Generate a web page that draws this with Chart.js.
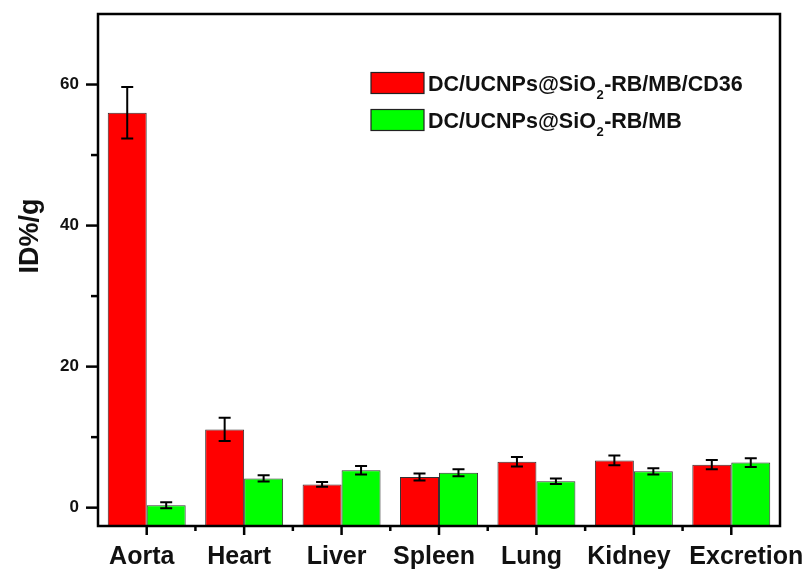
<!DOCTYPE html>
<html>
<head>
<meta charset="utf-8">
<script src="https://cdn.jsdelivr.net/npm/chart.js@4/dist/chart.umd.min.js"></script>
<style>
  html, body { margin: 0; padding: 0; background: #fff; }
  #wrap { width: 809px; height: 570px; }
</style>
</head>
<body>
<div id="wrap"><canvas id="c" width="809" height="570"></canvas></div>
<script>
// ---- data ----
const categories = ['Aorta', 'Heart', 'Liver', 'Spleen', 'Lung', 'Kidney', 'Excretion'];
const seriesNames = ['DC/UCNPs@SiO', 'DC/UCNPs@SiO'];
const seriesSuffix = ['-RB/MB/CD36', '-RB/MB'];
const targetedValues = [56.0, 11.1, 3.3, 4.35, 6.5, 6.7, 6.1];
const targetedErrors = [3.65, 1.65, 0.35, 0.5, 0.67, 0.7, 0.65];
const controlValues = [0.35, 4.15, 5.3, 4.95, 3.75, 5.15, 6.4];
const controlErrors = [0.42, 0.45, 0.6, 0.5, 0.4, 0.45, 0.62];
const yMin = -2.6, yMax = 70;
const yTickValues = [0, 10, 20, 30, 40, 50, 60];
const yLabelValues = [0, 20, 40, 60];
const yTitle = 'ID%/g';

const FONT = '"Liberation Sans", Arial, Helvetica, sans-serif';
const RED = '#ff0000', GREEN = '#00ff00';

const errorSets = [targetedErrors, controlErrors];

const framePlugin = {
  id: 'frame',
  afterDatasetsDraw(chart) {
    const ctx = chart.ctx;
    const ys = chart.scales.y;
    ctx.save();
    ctx.strokeStyle = '#000';
    ctx.lineWidth = 2;
    chart.data.datasets.forEach((ds, di) => {
      const meta = chart.getDatasetMeta(di);
      meta.data.forEach((bar, i) => {
        const v = ds.data[i], e = errorSets[di][i];
        const x = bar.x;
        const yt = ys.getPixelForValue(v + e), yb = ys.getPixelForValue(v - e);
        ctx.beginPath();
        ctx.moveTo(x, yt); ctx.lineTo(x, yb);
        ctx.moveTo(x - 6, yt); ctx.lineTo(x + 6, yt);
        ctx.moveTo(x - 6, yb); ctx.lineTo(x + 6, yb);
        ctx.stroke();
      });
    });
    ctx.restore();
  },
  afterDraw(chart) {
    const ctx = chart.ctx;
    const ca = chart.chartArea;
    const ys = chart.scales.y, xs = chart.scales.x;
    ctx.save();
    ctx.strokeStyle = '#000';
    ctx.lineWidth = 2.5;
    ctx.strokeRect(ca.left, ca.top, ca.right - ca.left, ca.bottom - ca.top);
    // y ticks
    yTickValues.forEach(v => {
      const y = ys.getPixelForValue(v);
      const len = yLabelValues.includes(v) ? 12 : 7;
      ctx.beginPath();
      ctx.moveTo(ca.left, y); ctx.lineTo(ca.left - len, y);
      ctx.stroke();
    });
    // x ticks: major at centers, minor at boundaries
    for (let i = 0; i < categories.length; i++) {
      const x = xs.getPixelForValue(i);
      ctx.beginPath();
      ctx.moveTo(x, ca.bottom); ctx.lineTo(x, ca.bottom + 9);
      ctx.stroke();
      if (i > 0) {
        const xb = xs.getPixelForValue(i - 0.5);
        ctx.beginPath();
        ctx.moveTo(xb, ca.bottom); ctx.lineTo(xb, ca.bottom + 5);
        ctx.stroke();
      }
    }
    // x category labels
    ctx.fillStyle = '#111';
    ctx.font = 'bold 25px ' + FONT;
    ctx.textAlign = 'center';
    ctx.textBaseline = 'alphabetic';
    for (let i = 0; i < categories.length; i++) {
      const shift = (i === categories.length - 1) ? 15 : -5;
      ctx.fillText(categories[i], xs.getPixelForValue(i) + shift, 564);
    }
    // y title
    ctx.font = 'bold 27px ' + FONT;
    ctx.textBaseline = 'middle';
    ctx.translate(31, 236);
    ctx.rotate(-Math.PI / 2);
    ctx.fillText(yTitle, 0, 0);
    ctx.restore();

    // legend
    ctx.save();
    const colors = [RED, GREEN];
    const boxX = 371, boxW = 53, boxH = 21;
    const boxY = [72.5, 109.5];
    const baseY = [90.5, 127.5];
    for (let k = 0; k < 2; k++) {
      ctx.fillStyle = colors[k];
      ctx.fillRect(boxX, boxY[k], boxW, boxH);
      ctx.strokeStyle = '#222';
      ctx.lineWidth = 1.2;
      ctx.strokeRect(boxX, boxY[k], boxW, boxH);
      ctx.fillStyle = '#111';
      ctx.textAlign = 'left';
      ctx.textBaseline = 'alphabetic';
      let tx = 428;
      ctx.font = 'bold 21.5px ' + FONT;
      ctx.fillText(seriesNames[k], tx, baseY[k]);
      tx += ctx.measureText(seriesNames[k]).width + 0.5;
      ctx.font = 'bold 13px ' + FONT;
      ctx.fillText('2', tx, baseY[k] + 8);
      tx += ctx.measureText('2').width + 0.5;
      ctx.font = 'bold 21.5px ' + FONT;
      ctx.fillText(seriesSuffix[k], tx, baseY[k]);
    }
    ctx.restore();
  }
};

new Chart(document.getElementById('c'), {
  type: 'bar',
  data: {
    labels: categories,
    datasets: [
      { label: 'DC/UCNPs@SiO2-RB/MB/CD36', data: targetedValues, backgroundColor: RED,
        borderColor: '#333', borderWidth: 1, base: yMin },
      { label: 'DC/UCNPs@SiO2-RB/MB', data: controlValues, backgroundColor: GREEN,
        borderColor: '#333', borderWidth: 1, base: yMin }
    ]
  },
  options: {
    responsive: false,
    animation: false,
    devicePixelRatio: 1,
    layout: { padding: { top: 14, right: 29, left: 0, bottom: 0 } },
    plugins: { legend: { display: false }, tooltip: { enabled: false } },
    datasets: { bar: { categoryPercentage: 0.8, barPercentage: 1.0 } },
    scales: {
      x: {
        offset: true,
        grid: { display: false, drawTicks: false },
        border: { display: false },
        ticks: { display: false },
        afterFit(s) { s.height = 44; s.paddingLeft = 0; s.paddingRight = 0; }
      },
      y: {
        min: yMin, max: yMax,
        grid: { display: false, drawTicks: false },
        border: { display: false },
        afterBuildTicks(s) { s.ticks = yTickValues.map(v => ({ value: v })); },
        ticks: {
          color: '#111',
          font: { family: FONT, size: 17, weight: 'bold' },
          padding: 19,
          callback: (v) => yLabelValues.includes(v) ? String(v) : ''
        },
        afterFit(s) { s.width = 98; s.paddingTop = 0; s.paddingBottom = 0; }
      }
    }
  },
  plugins: [framePlugin]
});
</script>
</body>
</html>
